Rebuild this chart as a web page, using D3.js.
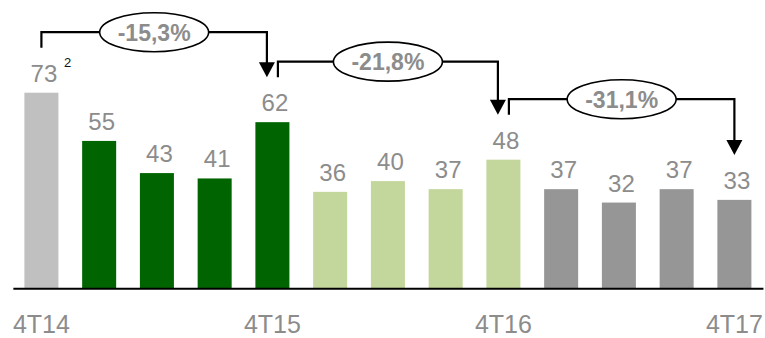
<!DOCTYPE html>
<html>
<head>
<meta charset="utf-8">
<script src="https://cdn.jsdelivr.net/npm/d3@7"></script>
<style>
  html, body { margin: 0; padding: 0; background: #fff; }
  svg { display: block; font-family: "Liberation Sans", Arial, sans-serif; }
</style>
</head>
<body>
<svg id="chart" width="765" height="338"></svg>
<script>
// ---- data ----
const categories = ["4T14","1T15","2T15","3T15","4T15","1T16","2T16","3T16","4T16","1T17","2T17","3T17","4T17"];
const values     = [73, 55, 43, 41, 62, 36, 40, 37, 48, 37, 32, 37, 33];
const groups     = ["2014","2015","2015","2015","2015","2016","2016","2016","2016","2017","2017","2017","2017"];
const groupKeys  = ["2014","2015","2016","2017"];
const groupColors = ["#c0c0c0","#006400","#c3d69b","#969696"];
const tickLabels = ["4T14","4T15","4T16","4T17"];
const footnoteIndex = 0, footnoteText = "2";
const changeFrom   = [0, 4, 8];
const changeTo     = [4, 8, 12];
const changeLabels = ["-15,3%", "-21,8%", "-31,1%"];

// ---- layout ----
const svg = d3.select("#chart");
const baseY = 288.3;
const x = d3.scaleBand().domain(categories).range([12.85, 762.95]).paddingInner(0.411).paddingOuter(0.2);
const y = d3.scaleLinear().domain([0, 73]).range([baseY, 92.7]);
const color = d3.scaleOrdinal().domain(groupKeys).range(groupColors);
const cx = i => x(categories[i]) + x.bandwidth() / 2;

// bars
svg.append("g").selectAll("rect").data(values).join("rect")
  .attr("x", (d, i) => x(categories[i]))
  .attr("y", d => y(d))
  .attr("width", x.bandwidth())
  .attr("height", d => baseY - y(d))
  .attr("fill", (d, i) => color(groups[i]));

// value labels
svg.append("g").selectAll("text").data(values).join("text")
  .attr("x", (d, i) => cx(i) + 2.5)
  .attr("y", d => y(d) - 11)
  .attr("text-anchor", "middle")
  .attr("font-size", 24)
  .attr("fill", "#8c8c8c")
  .text(d => d);

// footnote superscript
svg.append("text")
  .attr("x", cx(footnoteIndex) + 22.5)
  .attr("y", y(values[footnoteIndex]) - 25.5)
  .attr("font-size", 13)
  .attr("fill", "#111")
  .text(footnoteText);

// axis
const axis = d3.axisBottom(x).tickSize(0).tickSizeOuter(0).tickPadding(26.5)
  .tickFormat(d => tickLabels.includes(d) ? d : "");
const ag = svg.append("g").attr("transform", `translate(0,${baseY})`).call(axis);
ag.select(".domain").attr("stroke", "#000").attr("stroke-width", 2);
ag.selectAll("text").attr("font-size", 25).attr("fill", "#8c8c8c")
  .attr("font-family", "'Liberation Sans', Arial, sans-serif");

// change brackets
const gap = 45, rise = 15.5;
const bg = svg.append("g");
changeFrom.forEach((f, k) => {
  const t = changeTo[k];
  const sharedStart = changeTo.includes(f);
  const sharedEnd = changeFrom.includes(t);
  const x0 = cx(f) + (sharedStart ? 5.5 : 0);
  const x1 = cx(t) - (sharedEnd ? 5.5 : 0);
  const yStart = y(values[f]) - gap;
  const yH = yStart - rise;
  const yTip = y(values[t]) - gap;
  const headH = 15, headW = 8;
  bg.append("path")
    .attr("d", `M${x0},${yStart} V${yH} H${x1} V${yTip - headH + 1}`)
    .attr("fill", "none").attr("stroke", "#000").attr("stroke-width", 2.2);
  bg.append("path")
    .attr("d", `M${x1 - headW},${yTip - headH} L${x1 + headW},${yTip - headH} L${x1},${yTip} Z`)
    .attr("fill", "#000");
  const mx = (x0 + x1) / 2;
  bg.append("ellipse")
    .attr("cx", mx).attr("cy", yH).attr("rx", 54.5).attr("ry", 19.5)
    .attr("fill", "#fff").attr("stroke", "#000").attr("stroke-width", 1.6);
  bg.append("text")
    .attr("x", mx).attr("y", yH + 8.5)
    .attr("text-anchor", "middle")
    .attr("font-size", 23).attr("font-weight", "bold")
    .attr("fill", "#8c8c8c")
    .text(changeLabels[k]);
});
</script>
</body>
</html>
